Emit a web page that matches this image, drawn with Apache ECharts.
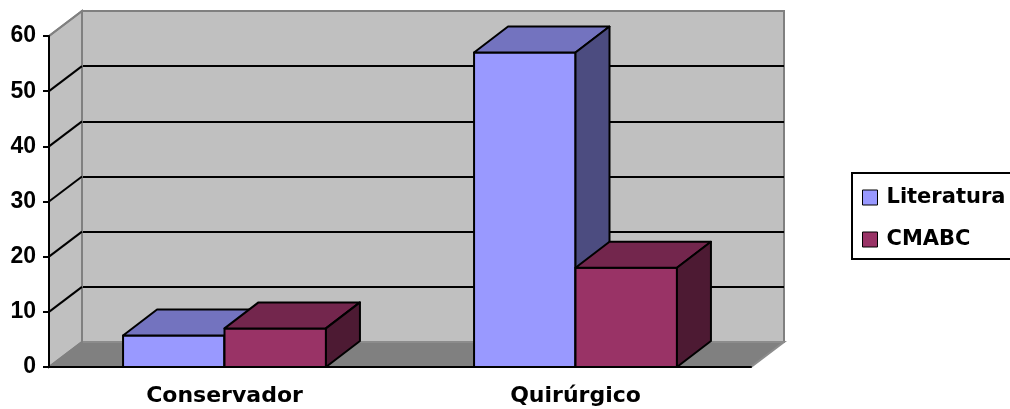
<!DOCTYPE html>
<html>
<head>
<meta charset="utf-8">
<script src="https://cdn.jsdelivr.net/npm/echarts@6/dist/echarts.min.js"></script>
<style>
  html, body { margin: 0; padding: 0; background: #fff; }
  #chart { width: 1010px; height: 409px; }
</style>
</head>
<body>
<div id="chart"></div>
<script>
var categories = ['Conservador', 'Quirúrgico'];
var literatura = [5.7, 57];
var cmabc = [7, 18];
var yTicks = [0, 10, 20, 30, 40, 50, 60];

// depth of the fake 3d box (walls and bars)
var DX = 33, DY = -25;
var BDX = 34, BDY = -26;
var BAR_RATIO = 0.289;

var litColors = ['#9999ff', '#7373bf', '#4c4c80'];
var cmaColors = ['#993366', '#73264d', '#4d1a33'];

function renderWalls(params, api) {
  var cs = params.coordSys;
  var x0 = cs.x, y0 = cs.y, x1 = cs.x + cs.width, y1 = cs.y + cs.height;
  var children = [
    {
      type: 'polygon',
      shape: { points: [[x0, y1], [x1, y1], [x1 + DX, y1 + DY], [x0 + DX, y1 + DY]] },
      style: { fill: '#808080', stroke: '#8c8c8c', lineWidth: 2 }
    },
    {
      type: 'polygon',
      shape: { points: [[x0, y0], [x0 + DX, y0 + DY], [x0 + DX, y1 + DY], [x0, y1]] },
      style: { fill: '#c0c0c0', stroke: '#808080', lineWidth: 2 }
    }
  ];
  yTicks.forEach(function (t, i) {
    var y = api.coord([0, t])[1];
    var edge = (i === 0 || i === yTicks.length - 1);
    children.push({
      type: 'line',
      shape: { x1: x0, y1: y, x2: x0 + DX, y2: y + DY },
      style: { stroke: edge ? '#808080' : '#000', lineWidth: 2 }
    });
  });
  return { type: 'group', children: children };
}

function makeBar(side, colors) {
  return function (params, api) {
    var top = api.coord([api.value(0), api.value(1)]);
    var base = api.coord([api.value(0), 0]);
    var w = api.size([1, 0])[0] * BAR_RATIO;
    var xa = side < 0 ? top[0] - w : top[0];
    var xb = xa + w;
    var yt = top[1], yb = base[1];
    function st(fill) {
      return { fill: fill, stroke: '#000', lineWidth: 2, lineJoin: 'round' };
    }
    return {
      type: 'group',
      children: [
        { type: 'rect', shape: { x: xa, y: yt, width: w, height: yb - yt }, style: st(colors[0]) },
        { type: 'polygon', shape: { points: [[xa, yt], [xb, yt], [xb + BDX, yt + BDY], [xa + BDX, yt + BDY]] }, style: st(colors[1]) },
        { type: 'polygon', shape: { points: [[xb, yt], [xb + BDX, yt + BDY], [xb + BDX, yb + BDY], [xb, yb]] }, style: st(colors[2]) }
      ]
    };
  };
}

var chart = echarts.init(document.getElementById('chart'));

var option = {
  animation: false,
  backgroundColor: '#fff',
  grid: [
    { left: 49, top: 36, width: 702, height: 331 },
    { left: 49 + DX, top: 36 + DY, width: 702, height: 331, show: true,
      backgroundColor: '#c0c0c0', borderColor: '#808080', borderWidth: 2 }
  ],
  legend: {
    data: ['Literatura', 'CMABC'],
    orient: 'vertical',
    left: 852,
    top: 173,
    padding: [14, 12, 9, 10],
    itemWidth: 15,
    itemHeight: 15,
    itemGap: 21,
    borderColor: '#000',
    borderWidth: 2,
    icon: 'rect',
    itemStyle: { borderColor: '#000', borderWidth: 1 },
    textStyle: { fontFamily: 'DejaVu Sans', fontWeight: 'bold', fontSize: 21, color: '#000', padding: [0, 0, 0, 4] }
  },
  xAxis: [
    {
      type: 'category',
      gridIndex: 0,
      data: categories,
      z: 5,
      axisLine: { lineStyle: { color: '#000', width: 2 } },
      axisTick: { length: 6, lineStyle: { color: '#000', width: 2 } },
      axisLabel: { margin: 18, fontFamily: 'DejaVu Sans', fontWeight: 'bold', fontSize: 22, color: '#000' }
    },
    { type: 'category', gridIndex: 1, data: categories, show: false }
  ],
  yAxis: [
    {
      type: 'value',
      gridIndex: 0,
      min: 0, max: 60, interval: 10,
      z: 5,
      axisLine: { show: true, lineStyle: { color: '#000', width: 2 } },
      axisTick: { show: true, length: 6, lineStyle: { color: '#000', width: 2 } },
      splitLine: { show: false },
      axisLabel: { margin: 13, fontFamily: 'Liberation Sans', fontWeight: 'bold', fontSize: 23, color: '#000' }
    },
    {
      type: 'value',
      gridIndex: 1,
      min: 0, max: 60, interval: 10,
      z: 1,
      axisLine: { show: false },
      axisTick: { show: false },
      axisLabel: { show: false },
      splitLine: {
        show: true,
        lineStyle: { width: 2, color: ['#808080', '#000', '#000', '#000', '#000', '#000', '#808080'] }
      }
    }
  ],
  series: [
    {
      type: 'custom',
      name: 'walls',
      xAxisIndex: 0, yAxisIndex: 0,
      z: 1,
      clip: false,
      silent: true,
      renderItem: renderWalls,
      data: [[0, 0]]
    },
    {
      type: 'custom',
      name: 'Literatura',
      xAxisIndex: 0, yAxisIndex: 0,
      z: 3,
      clip: false,
      itemStyle: { color: litColors[0] },
      renderItem: makeBar(-1, litColors),
      encode: { x: 0, y: 1 },
      data: literatura.map(function (v, i) { return [i, v]; })
    },
    {
      type: 'custom',
      name: 'CMABC',
      xAxisIndex: 0, yAxisIndex: 0,
      z: 3,
      clip: false,
      itemStyle: { color: cmaColors[0] },
      renderItem: makeBar(1, cmaColors),
      encode: { x: 0, y: 1 },
      data: cmabc.map(function (v, i) { return [i, v]; })
    }
  ]
};

chart.setOption(option);
</script>
</body>
</html>
